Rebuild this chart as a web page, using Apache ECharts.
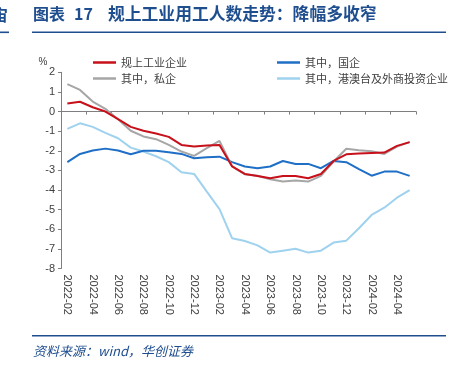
<!DOCTYPE html>
<html>
<head>
<meta charset="utf-8">
<script src="https://cdn.jsdelivr.net/npm/echarts@6/dist/echarts.min.js"></script>
<style>
html,body{margin:0;padding:0;background:#fff;}
#c{width:452px;height:375px;}
</style>
</head>
<body>
<div id="c"></div>
<script>
var months = ['2022-02','2022-03','2022-04','2022-05','2022-06','2022-07','2022-08','2022-09','2022-10','2022-11','2022-12','2023-01','2023-02','2023-03','2023-04','2023-05','2023-06','2023-07','2023-08','2023-09','2023-10','2023-11','2023-12','2024-01','2024-02','2024-03','2024-04','2024-05'];
var seriesNames = ['规上工业企业','其中，私企','其中，国企','其中，港澳台及外商投资企业'];
var industrial = [0.41,0.5,0.22,0.0,-0.39,-0.78,-0.98,-1.12,-1.29,-1.7,-1.78,-1.73,-1.7,-2.8,-3.18,-3.28,-3.4,-3.28,-3.28,-3.4,-3.18,-2.52,-2.18,-2.14,-2.11,-2.09,-1.75,-1.56];
var privateEnt = [1.4,1.1,0.51,0.14,-0.39,-0.98,-1.27,-1.41,-1.7,-2.04,-2.26,-1.87,-1.5,-2.8,-3.2,-3.27,-3.45,-3.57,-3.52,-3.57,-3.28,-2.55,-1.9,-1.97,-2.02,-2.16,-1.79,-1.56];
var stateEnt = [-2.58,-2.16,-1.99,-1.89,-1.99,-2.18,-2.0,-2.0,-2.07,-2.16,-2.38,-2.33,-2.3,-2.58,-2.8,-2.89,-2.8,-2.52,-2.67,-2.67,-2.89,-2.52,-2.58,-2.93,-3.27,-3.06,-3.06,-3.28];
var foreignEnt = [-0.88,-0.6,-0.78,-1.09,-1.36,-1.84,-2.04,-2.28,-2.58,-3.09,-3.18,-4.08,-4.97,-6.46,-6.6,-6.82,-7.19,-7.09,-6.99,-7.19,-7.09,-6.68,-6.58,-5.95,-5.27,-4.9,-4.39,-4.0];

var titleColor = '#1f4e8f';
var chart = echarts.init(document.getElementById('c'));
chart.setOption({
  animation: false,
  backgroundColor: '#ffffff',
  graphic: [
    {type:'text', left:-8, top:7, style:{text:'宙', font:'bold 16px "Noto Sans CJK SC"', fill:titleColor}},
    {type:'text', left:33, top:6, style:{text:'图表', font:'bold 16px "Noto Sans CJK SC"', fill:titleColor}},
    {type:'text', left:74, top:6, style:{text:'17', font:'bold 16px "Noto Sans CJK SC"', fill:titleColor}},
    {type:'text', left:108, top:5.5, style:{text:'规上工业用工人数走势：降幅多收窄', font:'bold 16.8px "Noto Sans CJK SC"', fill:titleColor}},
    {type:'rect', shape:{x:32, y:31.5, width:414, height:1.6}, style:{fill:titleColor}},
    {type:'rect', shape:{x:0, y:31.5, width:9, height:1.6}, style:{fill:titleColor}},
    {type:'rect', shape:{x:32, y:335, width:414, height:1.6}, style:{fill:titleColor}},
    {type:'text', left:33, top:345, style:{text:'资料来源：wind，华创证券', font:'italic 13px "Noto Sans CJK SC"', fill:titleColor}}
  ],
  legend: [
    {data:[seriesNames[0], seriesNames[1]], orient:'vertical', left:88, top:52, itemWidth:23, itemHeight:2.5, icon:'rect', itemGap:5,
     textStyle:{fontSize:11, color:'#404040', fontFamily:'Noto Sans CJK SC'}},
    {data:[seriesNames[2], seriesNames[3]], orient:'vertical', left:272, top:52, itemWidth:23, itemHeight:2.5, icon:'rect', itemGap:5,
     textStyle:{fontSize:11, color:'#404040', fontFamily:'Noto Sans CJK SC'}}
  ],
  grid: {left:61, right:36, top:72.3, bottom:106.5, containLabel:false},
  xAxis: [
    {type:'category', data:months, boundaryGap:true, position:'bottom',
     axisLine:{show:false, onZero:false}, axisTick:{show:false},
     axisLabel:{interval:1, rotate:-90, margin:6, fontSize:11, color:'#404040', fontFamily:'Liberation Sans'}},
    {type:'category', data:months, boundaryGap:true, position:'bottom',
     axisLine:{show:true, onZero:true, lineStyle:{color:'#7f7f7f', width:1}},
     axisTick:{show:true, interval:1, length:3, lineStyle:{color:'#7f7f7f'}},
     axisLabel:{show:false}}
  ],
  yAxis: {type:'value', min:-8, max:2, interval:1, name:'%', nameLocation:'end', nameGap:3,
    nameTextStyle:{fontSize:10, color:'#404040', fontFamily:'Liberation Sans', padding:[0,36,0,0]},
    axisLine:{show:true, lineStyle:{color:'#7f7f7f', width:1}},
    axisTick:{show:true, length:3, lineStyle:{color:'#7f7f7f'}},
    splitLine:{show:false},
    axisLabel:{fontSize:11, color:'#404040', fontFamily:'Liberation Sans', margin:6}},
  series: [
    {name:seriesNames[3], type:'line', data:foreignEnt, symbol:'none', lineStyle:{width:2, color:'#9fd2ee'}, itemStyle:{color:'#9fd2ee'}},
    {name:seriesNames[2], type:'line', data:stateEnt, symbol:'none', lineStyle:{width:2, color:'#1f6fc6'}, itemStyle:{color:'#1f6fc6'}},
    {name:seriesNames[1], type:'line', data:privateEnt, symbol:'none', lineStyle:{width:2, color:'#a6a6a6'}, itemStyle:{color:'#a6a6a6'}},
    {name:seriesNames[0], type:'line', data:industrial, symbol:'none', lineStyle:{width:2, color:'#c8101a'}, itemStyle:{color:'#c8101a'}}
  ]
});
</script>
</body>
</html>
